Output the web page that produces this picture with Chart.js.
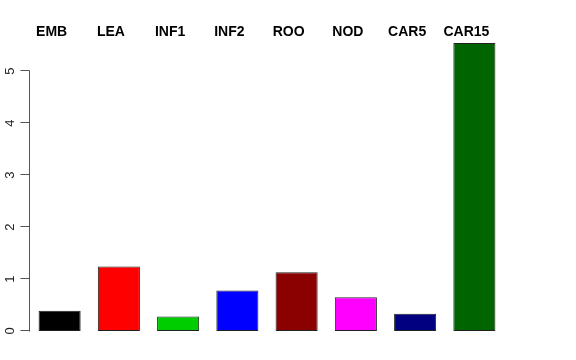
<!DOCTYPE html>
<html>
<head>
<meta charset="utf-8">
<script src="https://cdn.jsdelivr.net/npm/chart.js@4"></script>
<style>
  html, body { margin: 0; padding: 0; background: #fff; }
  #wrap { width: 576px; height: 360px; }
</style>
</head>
<body>
<div id="wrap"><canvas id="myChart"></canvas></div>
<script>
// data
const labels = ["EMB", "LEA", "INF1", "INF2", "ROO", "NOD", "CAR5", "CAR15"];
const values = [0.39, 1.24, 0.28, 0.78, 1.13, 0.65, 0.33, 5.54];
const colors = ["#000000", "#FF0000", "#00CD00", "#0000FF", "#8B0000", "#FF00FF", "#000080", "#006400"];
const yTicks = [0, 1, 2, 3, 4, 5];

// draws the R-style axis line, ticks, rotated tick labels and top category labels
const rAxis = {
  id: "rAxis",
  afterDraw(chart) {
    const ctx = chart.ctx;
    const x = chart.scales.x;
    const y = chart.scales.y;
    const ax = Math.round(chart.chartArea.left) - 0.5;

    ctx.save();
    ctx.strokeStyle = "#555";
    ctx.lineWidth = 1;
    ctx.beginPath();
    ctx.moveTo(ax, Math.round(y.getPixelForValue(0)) + 0.5);
    ctx.lineTo(ax, Math.round(y.getPixelForValue(yTicks[yTicks.length - 1])) - 0.5);
    yTicks.forEach((t) => {
      const py = Math.round(y.getPixelForValue(t)) - 0.5;
      ctx.moveTo(ax - 9, py);
      ctx.lineTo(ax, py);
    });
    ctx.stroke();

    ctx.fillStyle = "#222";
    ctx.font = "13px 'Liberation Sans', Arial, sans-serif";
    ctx.textAlign = "center";
    ctx.textBaseline = "alphabetic";
    yTicks.forEach((t) => {
      ctx.save();
      ctx.translate(13.5, y.getPixelForValue(t));
      ctx.rotate(-Math.PI / 2);
      ctx.fillText(String(t), 0, 0);
      ctx.restore();
    });

    ctx.fillStyle = "#000";
    ctx.font = "bold 14px 'Liberation Sans', Arial, sans-serif";
    labels.forEach((l, i) => {
      ctx.fillText(l, x.getPixelForValue(i) - 8, 36);
    });
    ctx.restore();
  },
};

const data = {
  labels: labels,
  datasets: [
    {
      data: values,
      backgroundColor: colors,
      borderColor: "#222",
      borderWidth: 1,
      borderSkipped: false,
      barPercentage: 0.71,
      categoryPercentage: 1,
    },
  ],
};

const config = {
  type: "bar",
  data: data,
  options: {
    responsive: true,
    maintainAspectRatio: false,
    animation: false,
    layout: { padding: { left: 30, right: 72, top: 40, bottom: 29 } },
    plugins: { legend: { display: false }, tooltip: { enabled: false } },
    scales: {
      x: { display: false },
      y: { display: false, min: 0, max: 5.6 },
    },
  },
  plugins: [rAxis],
};

const myChart = new Chart(document.getElementById("myChart"), config);
</script>
</body>
</html>
